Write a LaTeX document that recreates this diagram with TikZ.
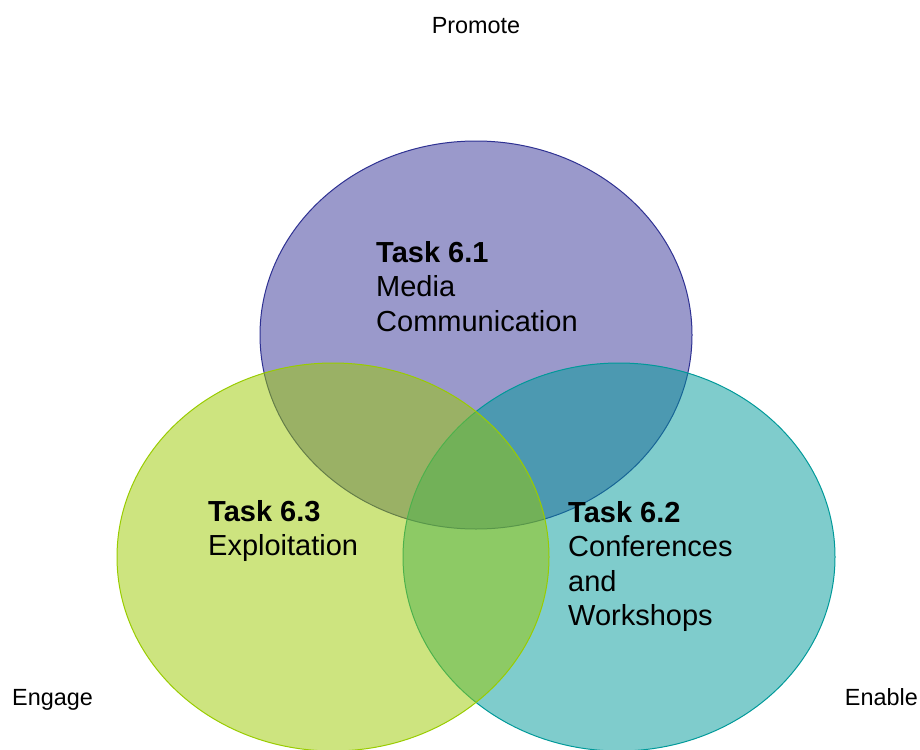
\documentclass[tikz,border=0pt]{standalone}
\usepackage{fontspec}
\setmainfont{Liberation Sans}
\definecolor{cpurple}{RGB}{53,51,151}
\definecolor{cpurpleedge}{RGB}{46,49,146}
\definecolor{cgreen}{RGB}{155,202,0}
\definecolor{cgreenedge}{RGB}{153,204,0}
\definecolor{cteal}{RGB}{0,153,153}
\definecolor{ctealedge}{RGB}{0,153,153}
\begin{document}
\begin{tikzpicture}[x=1pt,y=-1pt,
  venn/.style={line width=1pt, fill opacity=0.5},
  task/.style={anchor=base west, inner sep=0pt, align=left,
    font=\fontsize{29}{34.5}\selectfont},
  side/.style={inner sep=0pt, font=\fontsize{23.4}{28}\selectfont}]
\useasboundingbox (0,0) rectangle (920,749);
\draw[venn, draw=cpurpleedge, fill=cpurple] (476,335) ellipse [x radius=216, y radius=194];
\draw[venn, draw=ctealedge, fill=cteal] (619,557) ellipse [x radius=216, y radius=194];
\draw[venn, draw=cgreenedge, fill=cgreen] (333,557) ellipse [x radius=216, y radius=194];
\node[task] (t61) at (376,331) {\textbf{Task 6.1}\\Media\\Communication};
\node[task] (t63) at (208,555.5) {\textbf{Task 6.3}\\Exploitation};
\node[task] (t62) at (568,625.5) {\textbf{Task 6.2}\\Conferences\\and\\Workshops};
\node[side, anchor=base] (promote) at (476,34) {Promote};
\node[side, anchor=base west] (engage) at (12,705) {Engage};
\node[side, anchor=base east] (enable) at (918,705) {Enable};
\end{tikzpicture}
\end{document}
